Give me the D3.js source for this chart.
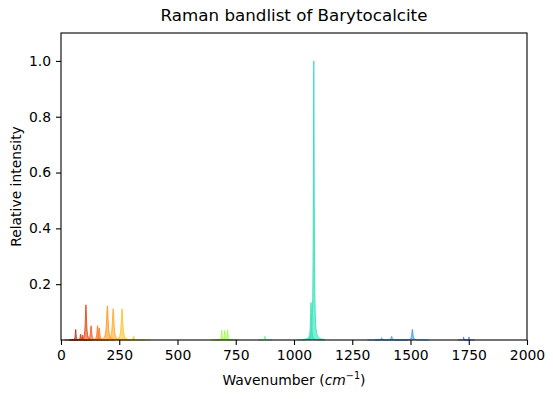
<!DOCTYPE html>
<html>
<head>
<meta charset="utf-8">
<script src="https://cdn.jsdelivr.net/npm/d3@7"></script>
<style>
  body { margin: 0; background: #fff; }
  svg { display: block; font-family: "DejaVu Sans", sans-serif; }
</style>
</head>
<body>
<svg id="chart" width="553" height="399"></svg>
<script>
// band list: position (cm-1), relative intensity, width (cm-1)
const bandCenters = [63, 84, 92, 107, 129, 157, 164, 199, 224, 262, 312, 690, 703, 715, 876, 1073, 1085, 1376, 1419, 1508, 1728, 1751]
const bandIntensities = [0.038, 0.021, 0.018, 0.126, 0.051, 0.051, 0.043, 0.122, 0.112, 0.112, 0.015, 0.036, 0.034, 0.036, 0.014, 0.134, 1.0, 0.008, 0.013, 0.038, 0.011, 0.011]
const bandWidths = [4, 4, 4, 6, 6, 6, 6, 8, 8, 8, 6, 4, 4, 4, 2.5, 5, 4, 5, 6, 6, 2, 2]

const xTicks = [0, 250, 500, 750, 1000, 1250, 1500, 1750, 2000]
const yTicks = [0.2, 0.4, 0.6, 0.8, 1.0]

const width = 553
const height = 399
const margin = { top: 33, right: 26, bottom: 59, left: 61 }

const svg = d3.select("#chart")

const x = d3.scaleLinear()
  .domain([0, 2000])
  .range([margin.left, width - margin.right])

const y = d3.scaleLinear()
  .domain([0, 1.1])
  .range([height - margin.bottom, margin.top])

// colour along the band list (turbo, red at low wavenumber -> blue at high)
const colorT = d3.scaleLinear()
  .domain([63, 107, 199, 262, 312, 703, 876, 1085, 1419, 1508, 1751])
  .range([0.89, 0.84, 0.72, 0.65, 0.6, 0.52, 0.41, 0.32, 0.22, 0.19, 0.135])
  .clamp(true)

const bands = bandCenters.map((c, i) => ({
  center: c,
  intensity: bandIntensities[i],
  width: bandWidths[i]
}))

// lorentzian line shape of one band
function profile(b) {
  const half = b.width / 2
  const step = b.width / 10
  const pts = []
  for (let k = -120; k <= 120; k++) {
    const wn = b.center + k * step
    const d = (wn - b.center) / half
    pts.push({ wn, v: b.intensity / (1 + d * d) })
  }
  return pts
}

const plot = svg.append("g")

const area = d3.area()
  .x(d => x(d.wn))
  .y0(y(0))
  .y1(d => y(d.v))

const line = d3.line()
  .x(d => x(d.wn))
  .y(d => y(d.v))

bands.forEach(b => {
  const pts = profile(b)
  const col = d3.interpolateTurbo(colorT(b.center))
  plot.append("path")
    .datum(pts)
    .attr("fill", col)
    .attr("fill-opacity", 0.6)
    .attr("d", area)
  plot.append("path")
    .datum(pts)
    .attr("fill", "none")
    .attr("stroke", col)
    .attr("stroke-opacity", 0.85)
    .attr("stroke-width", 1)
    .attr("d", line)
})

// axes
const xAxis = svg.append("g")
  .attr("transform", `translate(0,${height - margin.bottom})`)
  .call(d3.axisBottom(x)
    .tickValues(xTicks)
    .tickFormat(d3.format("d"))
    .tickSizeInner(5)
    .tickSizeOuter(0)
    .tickPadding(5))

const yAxis = svg.append("g")
  .attr("transform", `translate(${margin.left},0)`)
  .call(d3.axisLeft(y)
    .tickValues(yTicks)
    .tickFormat(d3.format(".1f"))
    .tickSizeInner(5)
    .tickSizeOuter(0)
    .tickPadding(5))

;[xAxis, yAxis].forEach(g => {
  g.select(".domain").remove()
  g.selectAll(".tick line").attr("stroke", "#000").attr("stroke-width", 1.1)
  g.selectAll(".tick text")
    .attr("fill", "#000")
    .style("font-family", "DejaVu Sans")
    .style("font-size", "13.9px")
})

// frame
svg.append("rect")
  .attr("x", margin.left)
  .attr("y", margin.top)
  .attr("width", width - margin.left - margin.right)
  .attr("height", height - margin.top - margin.bottom)
  .attr("fill", "none")
  .attr("stroke", "#000")
  .attr("stroke-width", 1.1)

// title and labels
svg.append("text")
  .attr("x", (margin.left + width - margin.right) / 2)
  .attr("y", 21)
  .attr("text-anchor", "middle")
  .style("font-size", "16.7px")
  .text("Raman bandlist of Barytocalcite")

const xl = svg.append("text")
  .attr("x", (margin.left + width - margin.right) / 2)
  .attr("y", 385)
  .attr("text-anchor", "middle")
  .style("font-size", "13.9px")
xl.append("tspan").text("Wavenumber (")
xl.append("tspan").attr("font-style", "italic").text("cm")
xl.append("tspan").attr("dy", -6).style("font-size", "9.7px").text("\u22121")
xl.append("tspan").attr("dy", 6).text(")")

svg.append("text")
  .attr("transform", `translate(21,${(margin.top + height - margin.bottom) / 2}) rotate(-90)`)
  .attr("text-anchor", "middle")
  .style("font-size", "13.9px")
  .text("Relative intensity")
</script>
</body>
</html>
